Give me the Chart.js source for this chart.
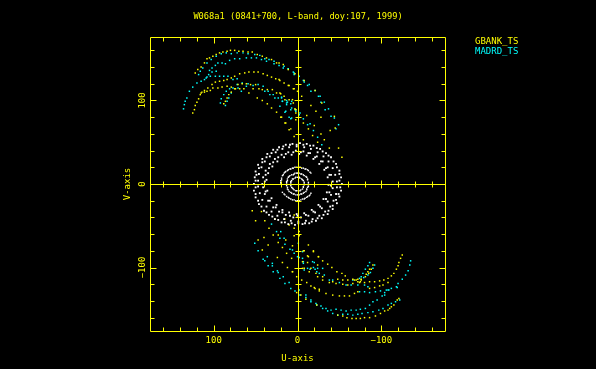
<!DOCTYPE html>
<html>
<head>
<meta charset="utf-8">
<style>
  html, body { margin: 0; padding: 0; background: #000; overflow: hidden; }
  canvas { display: block; }
</style>
<script src="https://cdn.jsdelivr.net/npm/chart.js@4"></script>
</head>
<body>
<canvas id="uvChart" width="596" height="369"></canvas>
<script>
var titleText = 'W068a1 (0841+700, L-band, doy:107, 1999)';
var legendLabels = ['GBANK_TS', 'MADRD_TS'];
var tickLabels = [-100, 0, 100];
var minorTicks = [-160, -140, -120, -100, -80, -60, -40, -20, 0, 20, 40, 60, 80, 100, 120, 140, 160];

// [u, v]
var gbankTop = [
  [122,133],[119,137],[115,140],[111,145],[108,150],[105,151],[101,153],[97,155],[93,157],[89,158],[84,159],[80,160],
  [75,160],[70,159],[65,159],[59,158],[54,158],[48,155],[42,153],[37,151],[31,149],[25,145],[22,145],
  [125,85],[123,89],[122,94],[120,98],[118,102],[116,107],[114,110],[111,112],[107,115],[102,119],[98,122],[93,123],
  [88,124],[84,125],[79,127],[75,129],[69,132],[63,133],[58,134],[52,134],[47,134],[41,132],[36,130],[31,128],[26,126],
  [21,124],[16,121],[10,118],[5,114],[0,111],
  [115,109],[111,110],[108,111],[104,112],[101,115],[95,115],[90,116],[84,117],[79,116],[74,114],[69,114],[64,114],
  [58,109],[53,114],[48,103],[42,100],[36,96],[31,91],[25,86],[19,80],[14,73],[8,66],
  [88,96],[86,99],[84,103],[82,107],[79,110],[75,114],[71,119],[66,120],[61,120],[56,119],[50,119],[46,114],[42,113],
  [36,113],[30,113],[25,109],[20,108],[15,101],[10,101],[5,97],[2,89],
  [17,143],[11,137],[22,125],[11,118],[3,132],[4,114],[-8,124],[-21,112],[21,109],[16,105],[-5,105],[6,101],[-29,97],
  [-16,94],[3,90],[-22,87],[20,80],[2,85],[-11,82],[-28,80],[-44,81],[10,65],[2,77],[-7,73],[-20,70],[-39,64],[-45,67],
  [4,57],[-7,53],[-18,58],[-24,50],[-32,53],[-38,43],[-49,43],[-53,32],[-28,60],[-13,66],[15,73]
];
var madrdTop = [
  [136,90],[135,95],[134,99],[132,103],[129,111],[125,116],[120,121],[115,123],[111,125],[108,128],[104,129],[98,129],
  [93,129],[88,129],[83,129],[77,125],[72,126],
  [118,131],[116,135],[113,139],[108,145],[103,149],[97,153],[91,156],[85,157],[79,156],[72,157],[65,157],[59,156],
  [51,155],[45,154],[39,150],[34,149],[28,147],[28,144],[22,142],[16,141],[11,138],[4,133],[-2,129],
  [105,136],[102,139],[98,142],[95,145],[90,145],[86,144],[81,148],[75,150],[69,150],[61,151],[55,151],[49,151],[43,149],[37,147],
  [109,127],[106,131],[102,134],[97,135],
  [92,97],[91,102],[88,107],[85,111],[81,114],[77,115],[72,119],[66,121],[59,120],[53,118],[47,119],[41,117],[35,111],
  [29,107],[23,103],[18,99],[13,95],[7,91],[2,89],
  [86,94],[84,99],[82,103],[79,109],[71,115],[67,111],[61,117],[39,111],[33,107],[27,103],[19,103],[12,98],[2,87],[7,79],[14,87],
  [17,139],[11,138],[5,134],[4,131],[-7,124],[-8,122],[-12,118],[-14,119],[-16,111],[-21,112],[-25,105],[-27,105],[-28,98],
  [-32,98],[19,104],[18,99],[13,100],[13,97],[8,96],[7,99],[21,93],[8,89],[15,86],[3,89],[-3,85],[-2,83],[10,80],[8,78],
  [-7,78],[-12,71],[-15,72],[-19,64],[-24,56],[-29,47],[-33,89],[-37,90],[-40,81],[-44,79],[-46,66],[-49,71]
];
var gbankBottom = [
  [-125,-85],[-123,-89],[-121,-94],[-120,-98],[-118,-102],[-115,-107],[-112,-110],[-108,-113],[-103,-115],[-98,-116],
  [-92,-117],[-86,-117],[-80,-118],[-75,-117],[-70,-115],[-66,-114],[-60,-115],[-54,-115],[-48,-114],[-42,-117],
  [-90,-97],[-88,-102],[-85,-107],[-81,-111],[-76,-114],[-72,-117],[-66,-119],[-60,-121],[-54,-120],[-46,-119],[-38,-118],[-30,-115],
  [-20,-124],[-26,-128],[-34,-131],[-42,-133],[-50,-134],[-56,-134],[-62,-134],[-68,-131],[-72,-129],[-86,-125],[-92,-124],
  [-98,-122],[-102,-121],[-108,-118],
  [-48,-157],[-54,-158],[-59,-160],[-65,-161],[-70,-161],[-75,-161],[-80,-160],[-86,-160],[-93,-158],[-99,-155],[-104,-152],
  [-110,-149],[-115,-145],[-119,-139],[-121,-137],[-112,-147],[-108,-151],
  [-2,-57],[4,-62],[-2,-62],[-8,-80],[-13,-73],[-19,-80],[-12,-86],[-25,-87],[-30,-92],[-24,-97],[-36,-96],[-41,-100],
  [-47,-105],[-53,-107],[-57,-110],[-6,-101],[-14,-105],[-22,-107],[-30,-111],[6,-105],[-5,-115],[-11,-118],
  [-84,-105],[-82,-108],[-86,-102],[-76,-115],[-72,-114],[-68,-115],[-74,-118],
  [54,-32],[50,-44],[39,-44],[27,-42],[43,-33],[40,-64],[34,-53],[29,-61],[47,-67],[35,-73],[23,-70],[14,-67],[18,-76],
  [42,-79],[24,-88],[13,-83],[7,-89],[18,-94],[12,-100],[6,-105],[1,-111],[-7,-80],[-13,-87],[-6,-93],[-12,-94],[-25,-87],
  [-19,-81],[-8,-101],[-16,-101],[-24,-111],[-16,-122],[-21,-125],[-26,-126],[1,-130],[-4,-133],[-10,-138],[-23,-145],
  [10,-49],[15,-42],[23,-61],[6,-74],[4,-53],[4,-37]
];
var madrdBottom = [
  [-86,-94],[-84,-98],[-81,-102],[-78,-107],[-76,-111],[-92,-97],[-90,-101],[-87,-106],[-84,-109],[-79,-112],
  [-135,-92],[-134,-97],[-132,-104],[-129,-109],[-125,-114],[-120,-119],[-118,-123],[-112,-125],[-108,-127],[-104,-133],
  [-119,-124],[-109,-127],[-104,-130],[-101,-134],[-95,-139],[-90,-141],[-86,-145],[-81,-149],[-75,-150],[-70,-151],[-64,-151],
  [-58,-152],[-52,-151],[-46,-150],[-40,-151],[-34,-149],[-28,-146],[-23,-145],
  [-122,-139],[-117,-141],[-112,-143],[-108,-145],[-102,-149],[-97,-151],[-90,-153],[-84,-154],[-77,-155],[-72,-156],[-66,-157],
  [-60,-156],[-54,-156],[-48,-157],[-42,-155],[-36,-152],[-30,-149],
  [-74,-129],[-80,-129],[-86,-130],[-93,-129],[-99,-128],[-106,-127],
  [-42,-115],[-50,-118],[-58,-121],[-64,-121],[-72,-121],[-80,-121],[-66,-115],[-74,-113],[-84,-123],
  [6,-79],[0,-87],[-6,-89],[-7,-95],[-12,-101],[-19,-100],[-24,-101],[-26,-107],[-32,-109],[-38,-115],[-30,-101],[-2,-127],[-10,-133],[-16,-141],
  [31,-48],[25,-57],[20,-57],[51,-71],[47,-80],[41,-90],[39,-92],[36,-87],[35,-98],[30,-95],[30,-98],[21,-65],[16,-65],
  [15,-72],[9,-78],[4,-83],[-1,-71],[29,-105],[24,-104],[23,-106],[21,-113],[17,-111],[15,-119],[10,-118],[8,-125],[3,-128],
  [-3,-133],[-10,-136],[-16,-139],[-22,-143],[-2,-88],[-7,-93],[-18,-93],[-20,-94],[-21,-102],[-23,-105],[-15,-102],[-8,-103],[-6,-81]
];
var shortBandOuter = [
  [52,0],[51,8],[50,15],[47,23],[42,30],[36,36],[29,41],[22,44],[14,47],[6,48],[-3,49],[-11,48],[-19,46],[-27,42],[-34,37],
  [-40,32],[-46,24],[-50,16],[-52,8],[-53,0],[-52,-8],[-50,-15],[-47,-23],[-42,-30],[-36,-36],[-29,-41],[-22,-44],[-14,-47],
  [-6,-48],[3,-49],[11,-48],[19,-46],[27,-42],[34,-37],[40,-32],[46,-24],[50,-16],[52,-8],
  [50,4],[49,11],[46,19],[42,26],[37,32],[31,37],[24,41],[17,45],[9,47],[1,47],[-7,47],[-15,46],[-23,43],[-30,39],[-37,34],
  [-43,27],[-47,20],[-50,12],[-50,4],[-51,-4],[-49,-12],[-46,-19],[-42,-26],[-37,-32],[-31,-37],[-24,-41],[-17,-45],[-9,-47],
  [-1,-47],[7,-47],[15,-46],[23,-43],[30,-39],[37,-34],[43,-27],[47,-20],[50,-12],[50,-4],
  [47,4],[46,12],[43,20],[39,27],[33,33],[26,38],[18,42],[10,44],[1,45],[-8,44],[-16,42],[-24,38],[-31,33],[-37,27],[-42,19],
  [-45,11],[-47,3],[-47,-4],[-46,-12],[-43,-20],[-39,-27],[-33,-33],[-26,-38],[-18,-42],[-10,-44],[-1,-45],[8,-44],[16,-42],
  [24,-38],[31,-33],[37,-27],[42,-19],[45,-11],[47,-3]
];
var shortBandInner = [
  [42,0],[41,8],[38,16],[33,24],[27,30],[19,35],[11,38],[2,40],[-7,39],[-15,37],[-23,33],[-30,27],[-36,20],[-40,11],[-42,3],
  [-42,-5],[-40,-13],[-36,-21],[-29,-29],[-21,-34],[-13,-38],[-4,-40],[5,-40],[14,-37],[22,-33],[29,-28],[35,-20],[39,-12],[41,-4],
  [39,3],[38,11],[34,19],[29,26],[23,32],[14,36],[5,38],[-4,38],[-13,37],[-21,32],[-28,27],[-34,19],[-38,11],[-40,-2],[-38,-10],
  [-34,-18],[-27,-27],[-19,-33],[-10,-37],[0,-38],[9,-38],[18,-34],[26,-28],[33,-20],[38,-9],
  [37,5],[35,13],[30,21],[24,27],[16,32],[7,35],[-2,36],[-11,34],[-19,30],[-26,24],[-32,17],[-36,8],[-37,-1],[-35,-10],[-31,-18],
  [-25,-25],[-17,-31],[-8,-35],[1,-36],[10,-34],[18,-31],[25,-25],[31,-17],[36,-8]
];
var centreArcs = [
  [20,0],[20,2],[20,4],[19,5],[19,7],[18,10],[17,11],[16,13],[15,14],[14,15],[12,16],[11,17],[9,18],[8,18],[6,19],[5,19],[3,20],
  [1,20],[-1,20],[-3,20],[-5,19],[-7,19],[-9,18],[-10,18],[-12,17],[-13,16],[-15,14],[-16,13],
  [-16,-11],[-15,-13],[-14,-14],[-12,-15],[-11,-16],[-9,-17],[-8,-18],[-6,-18],[-4,-19],[-2,-20],[0,-20],[2,-20],[4,-19],[6,-19],
  [8,-18],[10,-17],[11,-16],[13,-15],[15,-13],[16,-12],[18,-10],
  [13,0],[13,2],[13,3],[12,4],[12,6],[11,8],[10,9],[9,10],[7,11],[5,11],[4,12],[3,13],[1,13],[0,13],[-2,13],[-4,12],[-5,12],[-7,11],
  [-8,10],[-10,9],[-11,8],[-12,6],[-12,5],[-13,2],[-13,0],[-13,-1],[-13,-3],[-12,-4],[-11,-6],[-11,-7],[-10,-9],[-8,-10],[-7,-11],
  [-5,-12],[-4,-12],[-2,-13],[0,-13],[2,-13],[4,-12],[5,-12],[7,-11],[8,-10],[10,-9],[11,-7],[12,-6],[12,-4],[13,-2],
  [8,0],[8,2],[8,3],[7,4],[6,6],[5,6],[3,7],[2,8],[0,8],[-2,8],[-3,7],[-5,6],[-6,5],[-7,4],[-8,2],[-8,0],[-8,-1],[-7,-3],[-7,-4],
  [-6,-6],[-4,-7],[-3,-8],[-1,-8],[1,-8],[2,-8],[4,-7],[5,-6],[6,-5],[7,-4],[8,-2]
];

var YELLOW = '#ffff00', CYAN = '#00ffff', WHITE = '#ffffff';
var FONT = 'DejaVu Sans Mono';

function toPoints(list) {
  return list.map(function(p) { return { x: p[0], y: p[1] }; });
}
function dots(label, list, colour, radius) {
  return {
    label: label,
    data: toPoints(list),
    backgroundColor: colour,
    pointStyle: 'rect',
    pointRadius: radius,
    pointBorderWidth: 0
  };
}
function crisp(v) { return Math.round(v) + 0.5; }

// box, inward ticks, centre cross, legend
var axesPlugin = {
  id: 'axesPlugin',
  beforeDraw: function(chart) {
    chart.ctx.save();
    chart.ctx.fillStyle = '#000';
    chart.ctx.fillRect(0, 0, chart.width, chart.height);
    chart.ctx.restore();
  },
  afterLayout: function(chart) {
    // title sits over the whole page, not just the padded part
    chart.titleBlock.left = 0;
    chart.titleBlock.right = chart.width;
  },
  afterDatasetsDraw: function(chart) {
    var ctx = chart.ctx, a = chart.chartArea, xs = chart.scales.x, ys = chart.scales.y;
    var l = crisp(a.left), r = crisp(a.right), t = crisp(a.top), b = crisp(a.bottom);
    var x0 = crisp(xs.getPixelForValue(0)), y0 = crisp(ys.getPixelForValue(0));
    ctx.save();
    ctx.strokeStyle = YELLOW;
    ctx.lineWidth = 1;
    ctx.beginPath();
    ctx.rect(l, t, r - l, b - t);
    ctx.moveTo(l, y0); ctx.lineTo(r, y0);
    ctx.moveTo(x0, t); ctx.lineTo(x0, b);
    minorTicks.forEach(function(v) {
      var major = tickLabels.indexOf(v) >= 0;
      var len = major ? 6 : 4, half = major ? 4 : 3;
      var px = crisp(xs.getPixelForValue(v)), py = crisp(ys.getPixelForValue(v));
      ctx.moveTo(px, b); ctx.lineTo(px, b - len);
      ctx.moveTo(px, t); ctx.lineTo(px, t + len);
      ctx.moveTo(l, py); ctx.lineTo(l + len, py);
      ctx.moveTo(r, py); ctx.lineTo(r - len, py);
      if (v !== 0) {
        ctx.moveTo(px, y0 - half); ctx.lineTo(px, y0 + half);
        ctx.moveTo(x0 - half, py); ctx.lineTo(x0 + half, py);
      }
    });
    ctx.stroke();
    ctx.font = '9px "' + FONT + '"';
    ctx.textBaseline = 'middle';
    ctx.fillStyle = YELLOW;
    ctx.fillText(legendLabels[0], 475, 42);
    ctx.fillStyle = CYAN;
    ctx.fillText(legendLabels[1], 475, 52);
    ctx.restore();
  }
};

function tickText(v) {
  return v < 0 ? '\u2212' + Math.abs(v) : String(v);
}
function useTickLabels(scale) {
  scale.ticks = tickLabels.map(function(v) { return { value: v }; });
}

var ctx = document.getElementById('uvChart').getContext('2d');
var uvChart = new Chart(ctx, {
  type: 'scatter',
  data: {
    datasets: [
      dots('short', shortBandOuter, WHITE, 1.3),
      dots('short2', shortBandInner, WHITE, 1.3),
      dots('centre', centreArcs, WHITE, 1),
      dots(legendLabels[0], gbankTop, YELLOW, 1.05),
      dots(legendLabels[0] + ' lower', gbankBottom, YELLOW, 1.05),
      dots(legendLabels[1], madrdTop, CYAN, 1.05),
      dots(legendLabels[1] + ' lower', madrdBottom, CYAN, 1.05)
    ]
  },
  options: {
    responsive: false,
    animation: false,
    layout: { padding: { left: 0, right: 151, top: 0, bottom: 0 } },
    plugins: {
      legend: { display: false },
      tooltip: { enabled: false },
      title: {
        display: true,
        text: titleText,
        color: YELLOW,
        font: { family: FONT, size: 8.7, weight: 'normal', lineHeight: 1 },
        padding: { top: 12, bottom: 16.3 }
      }
    },
    scales: {
      x: {
        type: 'linear',
        reverse: true,
        min: -176,
        max: 176,
        grid: { display: false },
        border: { display: false },
        afterBuildTicks: useTickLabels,
        afterFit: function(scale) { scale.height = 38; },
        ticks: {
          color: YELLOW,
          padding: -4,
          maxRotation: 0,
          autoSkip: false,
          font: { family: FONT, size: 9 },
          callback: tickText
        },
        title: {
          display: true,
          text: 'U-axis',
          color: YELLOW,
          font: { family: FONT, size: 9 },
          padding: { top: 0, bottom: 5 }
        }
      },
      y: {
        type: 'linear',
        min: -176,
        max: 176,
        grid: { display: false },
        border: { display: false },
        afterBuildTicks: useTickLabels,
        afterFit: function(scale) { scale.width = 150; },
        ticks: {
          color: YELLOW,
          padding: -11,
          minRotation: 90,
          maxRotation: 90,
          crossAlign: 'center',
          autoSkip: false,
          font: { family: FONT, size: 9 },
          callback: tickText
        },
        title: {
          display: true,
          text: 'V-axis',
          color: YELLOW,
          font: { family: FONT, size: 9 },
          padding: { top: 122, bottom: 0 }
        }
      }
    }
  },
  plugins: [axesPlugin]
});
</script>
</body>
</html>
